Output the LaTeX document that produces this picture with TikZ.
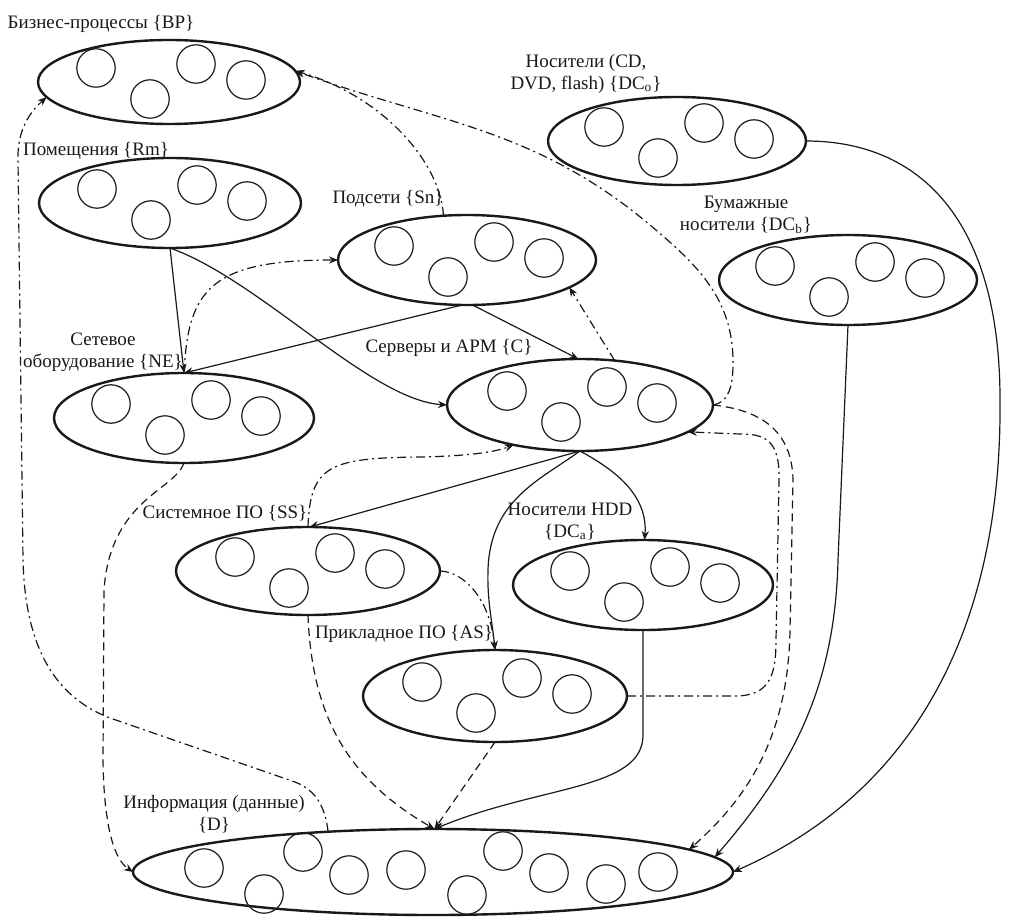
\documentclass[tikz,border=0pt]{standalone}
\usepackage{fontspec}
\setmainfont{Liberation Serif}
\usetikzlibrary{shapes.geometric,arrows.meta}
\definecolor{ink}{gray}{0.1}
\newcommand\circs[1]{\begin{scope}[shift={(#1.center)}]
  \foreach \a/\b in {-73/-14,-19/17,27/-18,77/-2} \draw[circ] (\a,\b) circle[radius=9.6pt];
\end{scope}}
\begin{document}
\begin{tikzpicture}[x=0.5pt,y=-0.5pt,
  ell/.style={ellipse,draw=ink,line width=1.2pt,inner sep=0pt,outer sep=0pt},
  circ/.style={draw=ink,line width=0.6pt},
  conn/.style={draw=ink,line width=0.6pt,-{Stealth[length=4.5pt,width=3.6pt]}},
  dsh/.style={dash pattern=on 4pt off 2.5pt},
  dd/.style={dash pattern=on 4.5pt off 2pt on 1pt off 2pt},
  lbl/.style={font=\fontsize{9.5}{11}\selectfont, text=ink, inner sep=0pt, align=center},
]
\useasboundingbox[fill=white] (0,0) rectangle (1015,919);

% ellipses
\node[ell,minimum width=131pt,minimum height=42pt] (BP) at (169,82) {};
\node[ell,minimum width=131pt,minimum height=45pt] (Rm) at (170,203) {};
\node[ell,minimum width=129pt,minimum height=45pt] (Sn) at (467,260) {};
\node[ell,minimum width=130pt,minimum height=45pt] (NE) at (184,418) {};
\node[ell,minimum width=133pt,minimum height=46pt] (C) at (580,405) {};
\node[ell,minimum width=129pt,minimum height=44pt] (DCo) at (677,141) {};
\node[ell,minimum width=129pt,minimum height=45pt] (DCb) at (848,280) {};
\node[ell,minimum width=132pt,minimum height=44pt] (SS) at (308,571) {};
\node[ell,minimum width=130pt,minimum height=45pt] (DCa) at (643,585) {};
\node[ell,minimum width=132pt,minimum height=46pt] (AS) at (495,696) {};
\node[ell,minimum width=300pt,minimum height=43pt] (D) at (433,872) {};

% small circles
\circs{BP}\circs{Rm}\circs{Sn}\circs{NE}\circs{C}\circs{DCo}\circs{DCb}\circs{SS}\circs{DCa}\circs{AS}
\foreach \a/\b in {204/868,264/894,303/852,349/875,406/870,467/895,503/851,549/873,606/884,658/872}
  \draw[circ] (\a,\b) circle[radius=9.6pt];

% labels
\node[lbl] (lBP) at (101,24) {Бизнес-процессы \{BP\}};
\node[lbl] (lRm) at (96,151) {Помещения \{Rm\}};
\node[lbl] (lSn) at (388,199) {Подсети \{Sn\}};
\node[lbl] (lNE) at (103,352) {Сетевое\\оборудование \{NE\}};
\node[lbl] (lC) at (449,348) {Серверы и АРМ \{C\}};
\node[lbl] (lDCo) at (586,74) {Носители (CD,\\DVD, flash) \{DC\textsubscript{o}\}};
\node[lbl] (lDCb) at (746,215) {Бумажные\\носители \{DC\textsubscript{b}\}};
\node[lbl] (lSS) at (225,513) {Системное ПО \{SS\}};
\node[lbl] (lDCa) at (570,522) {Носители HDD\\\{DC\textsubscript{a}\}};
\node[lbl] (lAS) at (404,634) {Прикладное ПО \{AS\}};
\node[lbl] (lD) at (214,814) {Информация (данные)\\\{D\}};

% solid connectors
\draw[conn] (Rm.south) -- (NE.north);
\draw[conn] (Rm.south) .. controls (260,280) and (370,400) .. (C.west);
\draw[conn] (Sn.-96) -- (NE.north);
\draw[conn] (Sn.-83) -- (C.92);
\draw[conn] (C.south) -- (SS.88);
\draw[conn] (C.south) .. controls (540,480) and (490,500) .. (488,570) .. controls (487,600) and (492,620) .. (AS.north);
\draw[conn] (C.south) .. controls (615,470) and (648,495) .. (DCa.88);
\draw[conn] (DCa.south) -- (643,735) .. controls (643,790) and (540,785) .. (D.88);
\draw[conn] (DCb.south) -- (838,560) .. controls (835,690) and (790,770) .. (D.3);
\draw[conn] (DCo.east) .. controls (920,141) and (1000,220) .. (1000,400) .. controls (1002,620) and (920,790) .. (D.east);

% dash-dot connectors
\draw[conn,dd] (NE.north) .. controls (188,290) and (210,260) .. (Sn.west);
\draw[conn,dd] (C.52) -- (Sn.-15);
\draw[conn,dd] (Sn.118) .. controls (440,160) and (380,95) .. (BP.5);
\draw[conn,dd] (C.east) to[out=10,in=-90] (733,362) to[out=90,in=-40] (650,225) to[out=140,in=-20] (BP.5);
\draw[conn,dd] (SS.north) .. controls (310,465) and (330,458) .. (420,457) .. controls (470,456) and (495,452) .. (C.-149);
\draw[conn,dd] (SS.east) .. controls (465,572) and (490,600) .. (AS.north);
\draw[conn,dd] (AS.east) -- (735,696) .. controls (770,696) and (776,675) .. (776,640) -- (779,480) .. controls (780,440) and (765,434) .. (740,434) -- (C.-14);
\draw[conn,dd] (D.159) .. controls (325,805) and (315,790) .. (295,782) -- (110,718) .. controls (50,695) and (25,640) .. (23,560) -- (18,160) .. controls (17,130) and (30,112) .. (BP.187);

% dashed connectors
\draw[conn,dsh] (SS.south) .. controls (312,720) and (350,780) .. (D.88);
\draw[conn,dsh] (AS.south) -- (D.88);
\draw[conn,dsh] (C.east) .. controls (760,410) and (792,430) .. (793,480) -- (790,630) .. controls (788,740) and (745,800) .. (D.5);
\draw[conn,dsh] (NE.south) .. controls (175,490) and (110,500) .. (104,590) -- (103,760) .. controls (104,830) and (115,860) .. (D.west);
\end{tikzpicture}
\end{document}
